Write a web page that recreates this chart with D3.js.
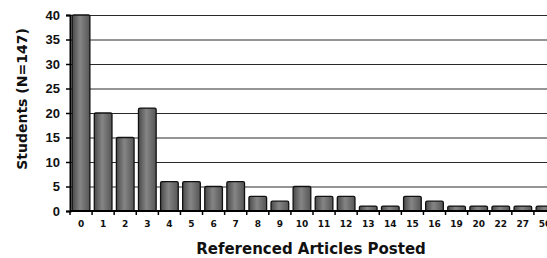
<!DOCTYPE html>
<html>
<head>
<meta charset="utf-8">
<script src="https://cdn.jsdelivr.net/npm/d3@7"></script>
<style>
  html, body { margin: 0; padding: 0; background: #fff; overflow: hidden; }
  svg { display: block; font-family: "DejaVu Sans", sans-serif; font-weight: bold; }
</style>
</head>
<body>
<div id="chart"></div>
<script>
//## Data

const categories = ["0", "1", "2", "3", "4", "5", "6", "7", "8", "9", "10",
  "11", "12", "13", "14", "15", "16", "19", "20", "22", "27", "50"];

const students = [40, 20, 15, 21, 6, 6, 5, 6, 3, 2, 5,
  3, 3, 1, 1, 3, 2, 1, 1, 1, 1, 1];

const yTicks = [0, 5, 10, 15, 20, 25, 30, 35, 40];

const yTitle = "Students (N=147)";
const xTitle = "Referenced Articles Posted";

//## Chart

const width = 547,
  height = 258,
  margin = { top: 15, right: -9, bottom: 47, left: 70 };

const svg = d3.select("#chart")
  .append("svg")
  .attr("width", width)
  .attr("height", height);

// bar shading, dark at the sides and lighter in the middle
const grad = svg.append("defs")
  .append("linearGradient")
  .attr("id", "barFill")
  .attr("x1", "0%").attr("x2", "100%")
  .attr("y1", "0%").attr("y2", "0%");
grad.append("stop").attr("offset", "0%").attr("stop-color", "#4a4a4a");
grad.append("stop").attr("offset", "45%").attr("stop-color", "#858585");
grad.append("stop").attr("offset", "100%").attr("stop-color", "#555");

const x = d3.scaleBand()
  .domain(categories)
  .range([margin.left, width - margin.right])
  .paddingInner(0.2)
  .paddingOuter(0.1);

const y = d3.scaleLinear()
  .domain([0, 40])
  .range([height - margin.bottom, margin.top]);

// gridlines
svg.append("g")
  .selectAll("line")
  .data(yTicks.filter((d) => d > 0))
  .join("line")
  .attr("x1", margin.left)
  .attr("x2", width)
  .attr("y1", (d) => y(d) + 0.5)
  .attr("y2", (d) => y(d) + 0.5)
  .attr("stroke", "#2a2a2a")
  .attr("stroke-width", 1);

// bars
svg.append("g")
  .selectAll("rect")
  .data(students)
  .join("rect")
  .attr("x", (d, i) => x(categories[i]))
  .attr("y", (d) => y(d))
  .attr("width", x.bandwidth())
  .attr("height", (d) => y(0) - y(d))
  .attr("rx", 1.5)
  .attr("fill", "url(#barFill)")
  .attr("stroke", "#111")
  .attr("stroke-width", 1.3);

// y axis
const yAxis = svg.append("g")
  .attr("transform", `translate(${margin.left},0)`)
  .call(d3.axisLeft(y).tickValues(yTicks).tickSize(4).tickPadding(6));
yAxis.select(".domain").attr("stroke", "#000").attr("stroke-width", 2);
yAxis.selectAll(".tick line").attr("stroke", "#000").attr("stroke-width", 1.5);
yAxis.selectAll("text")
  .attr("font-size", 13)
  .attr("font-weight", "bold")
  .attr("fill", "#111");

// x axis, ticks fall between the bars
const xAxis = svg.append("g")
  .attr("transform", `translate(0,${y(0)})`);
xAxis.append("line")
  .attr("x1", margin.left)
  .attr("x2", width)
  .attr("stroke", "#000")
  .attr("stroke-width", 2);
xAxis.selectAll(".sep")
  .data(categories)
  .join("line")
  .attr("class", "sep")
  .attr("x1", (d) => x(d) - x.step() * x.paddingInner() / 2)
  .attr("x2", (d) => x(d) - x.step() * x.paddingInner() / 2)
  .attr("y1", 0)
  .attr("y2", 4)
  .attr("stroke", "#000")
  .attr("stroke-width", 1.5);
xAxis.selectAll(".lbl")
  .data(categories)
  .join("text")
  .attr("class", "lbl")
  .attr("x", (d) => x(d) + x.bandwidth() / 2)
  .attr("y", 16)
  .attr("text-anchor", "middle")
  .attr("font-size", 9)
  .attr("fill", "#111")
  .text((d) => d);

// axis titles
svg.append("text")
  .attr("transform", `translate(27,${(margin.top + y(0)) / 2 - 14}) rotate(-90)`)
  .attr("text-anchor", "middle")
  .attr("font-size", 14)
  .attr("fill", "#111")
  .text(yTitle);

svg.append("text")
  .attr("x", 311)
  .attr("y", 254)
  .attr("text-anchor", "middle")
  .attr("font-size", 15)
  .attr("fill", "#111")
  .text(xTitle);
</script>
</body>
</html>
